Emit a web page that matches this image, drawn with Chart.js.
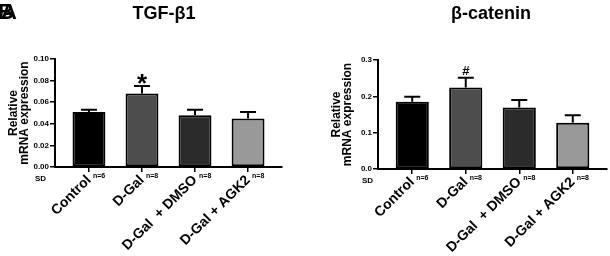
<!DOCTYPE html>
<html>
<head>
<meta charset="utf-8">
<script src="https://cdn.jsdelivr.net/npm/chart.js@4.4.1/dist/chart.umd.min.js"></script>
<style>
  body { margin: 0; background: #fff; }
  #wrap { position: relative; width: 610px; height: 256px; }
  #c1 { position: absolute; left: 0; top: 0; }
  #c2 { position: absolute; left: 300px; top: 0; }
</style>
</head>
<body>
<div id="wrap">
  <canvas id="c1" width="300" height="256"></canvas>
  <canvas id="c2" width="310" height="256"></canvas>
</div>
<script>
const groups = ['Control', 'D-Gal', 'D-Gal  + DMSO', 'D-Gal + AGK2'];
const groupN = ['n=6', 'n=8', 'n=8', 'n=8'];
const barColors = ['#000000', '#4d4d4d', '#2b2b2b', '#999999'];

// TGF-b1
const tgfValues = [0.051, 0.068, 0.048, 0.045];
const tgfErr = [0.002, 0.007, 0.005, 0.006];
const tgfTicks = [0, 0.02, 0.04, 0.06, 0.08, 0.10];

// b-catenin
const catValues = [0.185, 0.224, 0.169, 0.127];
const catErr = [0.014, 0.027, 0.021, 0.021];
const catTicks = [0, 0.1, 0.2, 0.3];

const FONT = "'Liberation Sans', Arial, sans-serif";

function extras(o) {
  return {
    id: 'extras',
    afterDatasetsDraw(chart) {
      const ctx = chart.ctx, xs = chart.scales.x, ys = chart.scales.y;
      ctx.save();
      ctx.strokeStyle = '#000';
      ctx.lineWidth = 2;
      o.values.forEach((v, i) => {
        const x = xs.getPixelForValue(i);
        const y0 = ys.getPixelForValue(v);
        const y1 = ys.getPixelForValue(v + o.err[i]);
        ctx.beginPath();
        ctx.moveTo(x, y0);
        ctx.lineTo(x, y1);
        ctx.moveTo(x - 8, y1);
        ctx.lineTo(x + 8, y1);
        ctx.stroke();
      });
      ctx.restore();
    },
    afterDraw(chart) {
      const ctx = chart.ctx, xs = chart.scales.x;
      const bottom = chart.chartArea.bottom;
      ctx.save();
      ctx.fillStyle = '#000';
      ctx.textBaseline = 'alphabetic';
      // title
      ctx.textAlign = 'center';
      ctx.font = 'bold 18px ' + FONT;
      ctx.fillText(o.title, o.titleX, 19);
      // significance mark
      ctx.font = 'bold ' + o.markSize + 'px ' + FONT;
      ctx.fillText(o.mark, xs.getPixelForValue(1), o.markY);
      // n labels
      ctx.textAlign = 'left';
      ctx.textBaseline = 'middle';
      ctx.font = 'bold 7px ' + FONT;
      groupN.forEach((n, i) => {
        ctx.fillText(n, xs.getPixelForValue(i) + 4, bottom + 9);
      });
      // SD
      ctx.font = 'bold 8px ' + FONT;
      ctx.fillText('SD', o.sdX, bottom + 12);
      // panel letters
      if (o.panel) {
        ctx.textBaseline = 'alphabetic';
        ctx.font = 'bold 22px ' + FONT;
        ctx.fillText('B', -2, 19);
        ctx.fillText('A', 1, 19);
      }
      ctx.restore();
    }
  };
}

function buildChart(id, o) {
  return new Chart(document.getElementById(id), {
    type: 'bar',
    data: {
      datasets: [{
        data: o.values.map((v, i) => ({ x: i, y: v })),
        backgroundColor: barColors,
        borderColor: '#000',
        borderWidth: 2,
        borderSkipped: false,
        barPercentage: 0.62,
        categoryPercentage: 1
      }]
    },
    options: {
      responsive: false,
      animation: false,
      devicePixelRatio: 1,
      layout: { padding: o.padding },
      plugins: { legend: { display: false }, tooltip: { enabled: false }, title: { display: false } },
      scales: {
        x: {
          type: 'linear',
          offset: false,
          min: -0.64,
          max: 3.64,
          afterBuildTicks: s => { s.ticks = groups.map((g, i) => ({ value: i })); },
          afterFit: s => { s.height = o.xHeight; },
          ticks: {
            autoSkip: false,
            maxRotation: 45,
            minRotation: 45,
            padding: 0,
            color: '#000',
            font: { family: FONT, size: 14, weight: 'bold' },
            callback: (v, i) => groups[i]
          },
          grid: { offset: false, drawOnChartArea: false, tickLength: 5, color: '#000', lineWidth: 1.5 },
          border: { color: '#000', width: 2 }
        },
        y: {
          min: 0,
          max: o.yMax,
          afterBuildTicks: s => { s.ticks = o.ticks.map(v => ({ value: v })); },
          afterFit: s => { s.width = o.yWidth; },
          ticks: {
            padding: 1,
            color: '#000',
            font: { family: FONT, size: 8, weight: 'bold' },
            callback: v => v.toFixed(o.dec)
          },
          grid: { drawOnChartArea: false, tickLength: 5, color: '#000', lineWidth: 1.5 },
          border: { color: '#000', width: 2 },
          title: {
            display: true,
            text: ['Relative', 'mRNA expression'],
            color: '#000',
            padding: 0,
            font: { family: FONT, size: 12, weight: 'bold', lineHeight: 0.95 }
          }
        }
      }
    },
    plugins: [extras(o)]
  });
}

buildChart('c1', {
  values: tgfValues, err: tgfErr, ticks: tgfTicks, yMax: 0.10, dec: 2,
  padding: { left: 8, right: 18, top: 59, bottom: 0 },
  yWidth: 47, xHeight: 89,
  title: 'TGF-\u03b21', titleX: 164,
  mark: '*', markSize: 26, markY: 92,
  sdX: 35, panel: true
});

buildChart('c2', {
  values: catValues, err: catErr, ticks: catTicks, yMax: 0.3, dec: 1,
  padding: { left: 31, right: 3, top: 60, bottom: 0 },
  yWidth: 47, xHeight: 87,
  title: '\u03b2-catenin', titleX: 191,
  mark: '#', markSize: 13, markY: 75,
  sdX: 62, panel: false
});
</script>
</body>
</html>
